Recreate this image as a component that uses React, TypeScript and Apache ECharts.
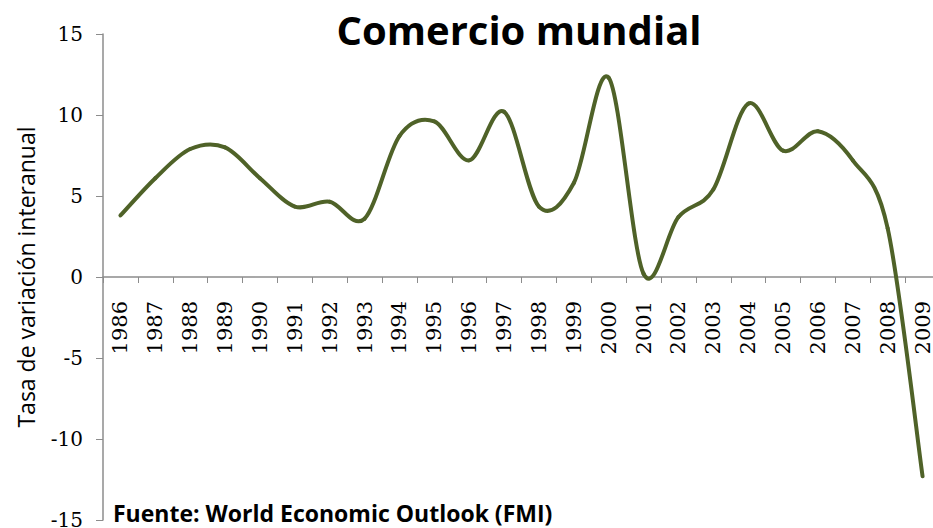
import React, { useEffect, useRef } from "react";
import * as echarts from "echarts";

const years = [
  "1986", "1987", "1988", "1989", "1990", "1991", "1992", "1993", "1994", "1995", "1996", "1997",
  "1998", "1999", "2000", "2001", "2002", "2003", "2004", "2005", "2006", "2007", "2008", "2009",
];
const tradeGrowth = [
  3.8, 6.1, 7.9, 8.0, 6.1, 4.35, 4.65, 3.6, 8.7, 9.6, 7.2, 10.2,
  4.35, 5.8, 12.3, 0.2, 3.7, 5.4, 10.7, 7.8, 9.0, 7.2, 3.0, -12.3,
];
const yTicks = { min: -15, max: 15, step: 5 };
const titleText = "Comercio mundial";
const yAxisName = "Tasa de variación interanual";
const sourceText = "Fuente: World Economic Outlook (FMI)";

export default function App() {
  const ref = useRef<HTMLDivElement>(null);
  useEffect(() => {
    document.body.style.margin = "0";
    const chart = echarts.init(ref.current!, null, { renderer: "svg" });
    const axisColor = "#8c8c8c";
    const lineColor = "#4f6228";
    const n = tradeGrowth.length;

    // Excel-like smooth curve (Catmull-Rom Bezier), one segment per data item,
    // with every point placed through the chart's own scales (api.coord).
    const renderItem = (params: any, api: any) => {
      const i = params.dataIndex;
      if (i >= n - 1) return { type: "group", children: [] };
      const idx = (k: number) => Math.max(0, Math.min(n - 1, k));
      const P = (k: number) => api.coord([idx(k), tradeGrowth[idx(k)]]);
      const p0 = P(i - 1);
      const p1 = P(i);
      const p2 = P(i + 1);
      const p3 = P(i + 2);
      const t = 1 / 6;
      const c1 = [p1[0] + (p2[0] - p0[0]) * t, p1[1] + (p2[1] - p0[1]) * t];
      const c2 = [p2[0] - (p3[0] - p1[0]) * t, p2[1] - (p3[1] - p1[1]) * t];
      const d = `M${p1[0]},${p1[1]} C${c1[0]},${c1[1]} ${c2[0]},${c2[1]} ${p2[0]},${p2[1]}`;
      return {
        type: "path",
        shape: { pathData: d },
        style: { stroke: lineColor, lineWidth: 4, fill: "none", lineCap: "round" },
      };
    };

    chart.setOption({
      animation: false,
      backgroundColor: "#ffffff",
      grid: {
        left: 103,
        top: 34,
        width: 837,
        height: 486,
        containLabel: false,
        outerBoundsMode: "none",
      },
      xAxis: {
        type: "category",
        data: years,
        boundaryGap: true,
        offset: -243,
        axisLine: { onZero: false, lineStyle: { color: axisColor, width: 1.5 } },
        axisTick: { show: true, length: 6, lineStyle: { color: axisColor } },
        axisLabel: {
          rotate: 90,
          margin: 24,
          fontFamily: "DejaVu Serif",
          fontSize: 21,
          color: "#000",
          interval: 0,
        },
        splitLine: { show: false },
      },
      yAxis: {
        type: "value",
        min: yTicks.min,
        max: yTicks.max,
        interval: yTicks.step,
        name: yAxisName,
        nameLocation: "middle",
        nameGap: 66,
        nameTextStyle: { fontFamily: "Open Sans", fontSize: 23, color: "#000" },
        axisLine: { show: true, lineStyle: { color: axisColor, width: 1.5 } },
        axisTick: { show: true, length: 7, lineStyle: { color: axisColor } },
        axisLabel: { margin: 20, fontFamily: "DejaVu Serif", fontSize: 20, color: "#000" },
        splitLine: { show: false },
      },
      series: [
        {
          type: "custom",
          data: tradeGrowth.map((v, i) => [i, v]),
          encode: { x: 0, y: 1 },
          renderItem,
          clip: false,
        },
      ],
      graphic: [
        {
          type: "text",
          x: 519,
          y: 29,
          style: {
            text: titleText,
            fontFamily: "Open Sans",
            fontWeight: "bold",
            fontSize: 40,
            fill: "#000",
            align: "center",
            verticalAlign: "middle",
          },
        },
        {
          type: "text",
          x: 113,
          y: 513,
          style: {
            text: sourceText,
            fontFamily: "Open Sans",
            fontWeight: "bold",
            fontSize: 23,
            fill: "#000",
            align: "left",
            verticalAlign: "middle",
          },
        },
      ],
    });
    return () => chart.dispose();
  }, []);
  return <div ref={ref} style={{ width: 933, height: 528 }} />;
}
